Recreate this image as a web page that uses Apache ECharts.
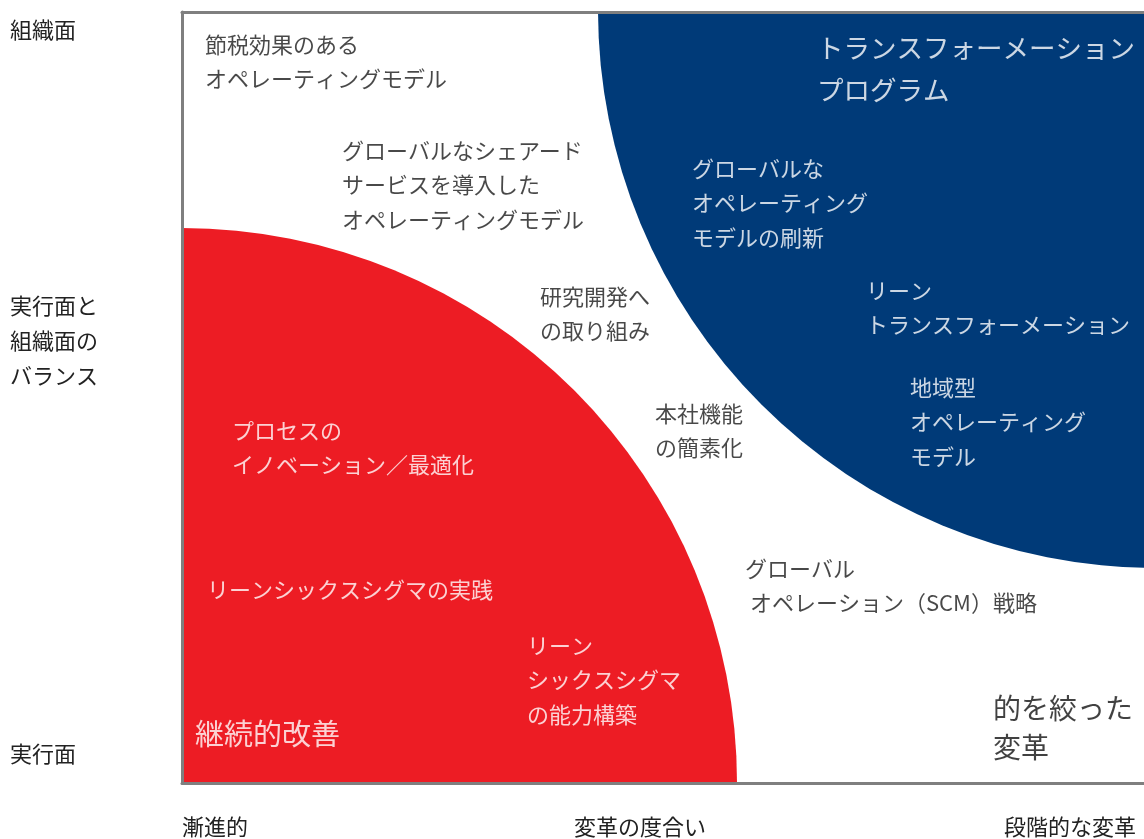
<!DOCTYPE html>
<html><head><meta charset="utf-8">
<script src="https://cdn.jsdelivr.net/npm/echarts@6/dist/echarts.min.js"></script>
<style>html,body{margin:0;padding:0;background:#fff}#c{width:1144px;height:839px}</style>
</head><body><div id="c"></div>
<script>
// Regions (quarter circles), in axis units
const regionNames = ['継続的改善', 'トランスフォーメーションプログラム'];
const regionCenterX = [0, 974];
const regionCenterY = [0, 773];
const regionRadius = [555, 558];
const regionColors = ['#ED1C24', '#003A78'];

// Axis tick labels
const yTickValues = [29, 442, 753];
const yTickLabels = ['実行面', '実行面と\n組織面の\nバランス', '組織面'];
const xTickValues = [33, 458, 888];
const xTickLabels = ['漸進的', '変革の度合い', '段階的な変革'];

// Item labels (top-left anchor in axis units)
const itemTexts = [
  '節税効果のある\nオペレーティングモデル',
  'グローバルなシェアード\nサービスを導入した\nオペレーティングモデル',
  '研究開発へ\nの取り組み',
  '本社機能\nの簡素化',
  'グローバル\n オペレーション（SCM）戦略',
  'グローバルな\nオペレーティング\nモデルの刷新',
  'リーン\nトランスフォーメーション',
  '地域型\nオペレーティング\nモデル',
  'プロセスの\nイノベーション／最適化',
  'リーンシックスシグマの実践',
  'リーン\nシックスシグマ\nの能力構築'
];
const itemX = [23, 160, 358, 473, 563, 510, 684, 728, 50, 25, 345];
const itemY = [756, 650, 504, 387, 232, 632, 510, 413, 370, 211, 155];
const itemOnDark = [false, false, false, false, false, true, true, true, true, true, true];

// Region titles
const titleTexts = ['継続的改善', '的を絞った\n変革', 'トランスフォーメーション\nプログラム'];
const titleX = [13, 811, 635];
const titleY = [69, 94, 756];
const titleOnDark = [true, false, true];

const FONT = '"Noto Sans CJK JP", "Noto Sans", sans-serif';
const chart = echarts.init(document.getElementById('c'), null, {renderer: 'canvas'});

const lineStyle = {color: '#7f7f7f', width: 3};
chart.setOption({
  animation: false,
  grid: {left: 182, right: 0, top: 12, bottom: 56, containLabel: false},
  xAxis: [{
    type: 'value', min: 0, max: 962, position: 'bottom', z: 10,
    splitLine: {show: false}, axisTick: {show: false},
    axisLine: {show: true, lineStyle: lineStyle},
    axisLabel: {
      customValues: xTickValues, margin: 33, color: '#222', fontSize: 22, fontFamily: FONT,
      formatter: v => xTickLabels[xTickValues.indexOf(v)]
    }
  }, {
    type: 'value', min: 0, max: 962, position: 'top', z: 10,
    splitLine: {show: false}, axisTick: {show: false}, axisLabel: {show: false},
    axisLine: {show: true, lineStyle: lineStyle}
  }],
  yAxis: {
    type: 'value', min: 0, max: 771, z: 10,
    splitLine: {show: false}, axisTick: {show: false},
    axisLine: {show: true, lineStyle: lineStyle},
    axisLabel: {
      customValues: yTickValues, margin: 172, align: 'left', color: '#222', fontSize: 22,
      lineHeight: 35, fontFamily: FONT,
      formatter: v => yTickLabels[yTickValues.indexOf(v)]
    }
  },
  series: [{
    type: 'custom', clip: true, z: 2,
    data: regionNames.map((n, i) => ({
      name: n, value: [regionCenterX[i], regionCenterY[i], regionRadius[i]],
      itemStyle: {color: regionColors[i]}
    })),
    renderItem: (params, api) => {
      const c = api.coord([api.value(0), api.value(1)]);
      const r = api.size([api.value(2), 0])[0];
      return {type: 'circle', shape: {cx: c[0], cy: c[1], r: r}, style: {fill: api.visual('color')}};
    }
  }, {
    type: 'scatter', symbolSize: 0, z: 5, silent: true,
    data: itemTexts.map((t, i) => ({
      value: [itemX[i], itemY[i]],
      label: {
        show: true, formatter: t, position: [0, 0], align: 'left', verticalAlign: 'top',
        fontSize: 22, lineHeight: 34.5, fontFamily: FONT,
        color: itemOnDark[i] ? '#ffffff' : '#1a1a1a'
      }
    }))
  }, {
    type: 'scatter', symbolSize: 0, z: 5, silent: true,
    data: titleTexts.map((t, i) => ({
      value: [titleX[i], titleY[i]],
      label: {
        show: true, formatter: t, position: [0, 0], align: 'left', verticalAlign: 'top',
        fontSize: i === 2 ? 26.5 : (i === 0 ? 29 : 28), lineHeight: i === 2 ? 42 : 39, fontFamily: FONT,
        color: titleOnDark[i] ? '#ffffff' : '#111111'
      }
    }))
  }]
});
</script></body></html>
